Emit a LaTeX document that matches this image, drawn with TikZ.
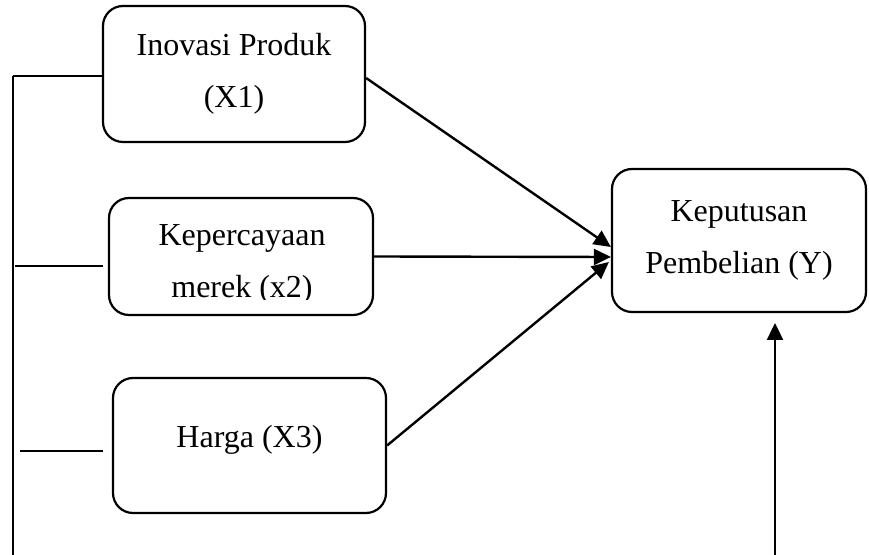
\documentclass[tikz,border=0pt]{standalone}
\usepackage{fontspec}
\setmainfont{Liberation Serif}
\usetikzlibrary{arrows.meta}
\begin{document}
\begin{tikzpicture}[
    x=0.5pt, y=-0.5pt,
    box/.style={rectangle, draw, line width=1.1pt, rounded corners=10pt, align=center, inner sep=0pt, font={\fontsize{16}{26}\selectfont}},
    arrow/.style={-{Triangle[length=8.5pt,width=8pt]}, line width=1.2pt},
    thinline/.style={line width=0.6pt}
]
\useasboundingbox (0,0) rectangle (869,555);

% Boxes
\node[box, minimum width=131pt, minimum height=68pt] (inovasi) at (234,74) {Inovasi Produk\\(X1)};
\node[box, minimum width=132pt, minimum height=58.5pt] (merek) at (241,256.5) {};
\begin{scope}
\clip (merek.south west) rectangle ([yshift=5.5pt]merek.north east);
\clip (0,0) rectangle (869,300);
\node[align=center, font={\fontsize{16}{26}\selectfont}] (merektext) at (242,264.5) {Kepercayaan\\merek (x2)};
\end{scope}
\node[box, minimum width=136.5pt, minimum height=67.5pt, text depth=9.5pt] (harga) at (249.5,445.5) {Harga (X3)};
\node[box, minimum width=127pt, minimum height=71.5pt] (keputusan) at (739,240.5) {Keputusan\\Pembelian (Y)};

% Bracket on the left
\coordinate (b1) at (13,76);
\coordinate (b2) at (15,266);
\coordinate (b3) at (20,451);
\coordinate (bend) at (13,555);
\draw[thinline] (b1) -- (b1 -| inovasi.west);
\draw[thinline] (b2) -- (103,266);
\draw[thinline] (b3) -- (103,451);
\draw[thinline] (b1) -- (bend);

% Arrows
\draw[arrow] ([yshift=-2pt]inovasi.east) -- ([yshift=-3.25pt]keputusan.west);
\draw[arrow] (merek.east) -- ([yshift=-8.25pt]keputusan.west);
\draw[arrow] (harga.east) -- ([yshift=-10.75pt,xshift=-1pt]keputusan.west);
\coordinate (ybase) at (775,555);
\coordinate (ytip) at (775,323);
\draw[arrow] (ybase) -- (ytip);

\end{tikzpicture}
\end{document}
